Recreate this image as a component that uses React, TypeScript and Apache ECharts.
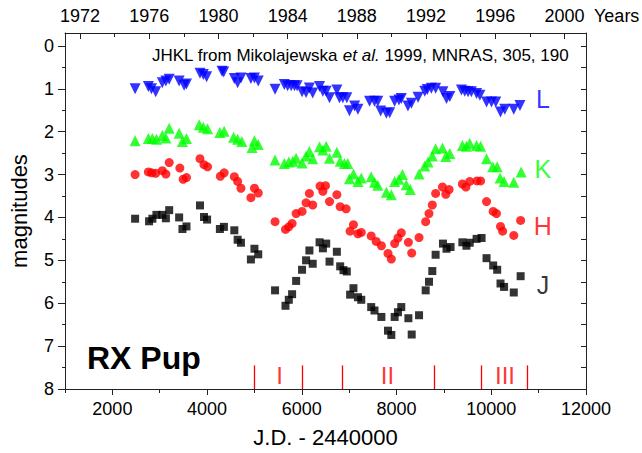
import React, { useEffect, useRef } from "react";
import * as echarts from "echarts";

// ---- data (J.D. - 2440000, magnitude) ----
const L_JD = [2480, 2760, 2825, 2915, 3055, 3130, 3200, 3410, 3515, 3565, 3850, 3920, 3990, 4315, 4350, 4575, 4645, 4715, 4925, 5000, 5080, 5435, 5630, 5700, 5775, 5845, 5900, 6005, 6090, 6160, 6230, 6375, 6445, 6515, 6585, 6740, 6795, 6865, 6950, 7005, 7115, 7185, 7430, 7535, 7605, 7665, 7785, 7855, 7960, 8050, 8100, 8240, 8315, 8455, 8595, 8650, 8735, 8825, 8980, 9055, 9125, 9370, 9440, 9510, 9580, 9690, 9760, 9900, 10005, 10095, 10195, 10285, 10475, 10605];
const L_MAG = [1.0, 0.95, 1.0, 1.07, 0.86, 0.82, 0.78, 0.82, 0.92, 0.89, 0.64, 0.67, 0.72, 0.59, 0.61, 0.76, 0.86, 0.75, 0.76, 0.75, 0.82, 1.01, 0.9, 0.93, 0.93, 0.93, 0.93, 1.07, 1.09, 0.98, 1.1, 0.95, 1.06, 1.06, 1.21, 1.03, 1.21, 1.21, 1.21, 1.51, 1.4, 1.48, 1.29, 1.29, 1.29, 1.52, 1.57, 1.56, 1.29, 1.26, 1.23, 1.4, 1.34, 1.2, 1.06, 1.02, 0.99, 0.99, 1.07, 1.23, 1.18, 1.03, 1.06, 1.07, 1.07, 1.11, 1.15, 1.31, 1.31, 1.31, 1.54, 1.48, 1.48, 1.39];

const K_JD = [2480, 2760, 2845, 2930, 3055, 3130, 3200, 3410, 3480, 3565, 3835, 3920, 4010, 4270, 4360, 4560, 4645, 4735, 4950, 5000, 5080, 5435, 5630, 5725, 5810, 5880, 6005, 6090, 6160, 6230, 6375, 6445, 6515, 6585, 6740, 6810, 6900, 6970, 7005, 7090, 7185, 7255, 7465, 7535, 7605, 7785, 7890, 7960, 8050, 8125, 8205, 8290, 8475, 8595, 8665, 8755, 8825, 8970, 9040, 9125, 9390, 9475, 9545, 9690, 9775, 9900, 10030, 10125, 10185, 10270, 10475, 10630];
const K_MAG = [2.21, 2.16, 2.16, 2.18, 2.09, 2.15, 1.92, 2.04, 2.23, 2.16, 1.84, 1.9, 1.93, 2.02, 1.99, 2.13, 2.18, 2.23, 2.37, 2.21, 2.3, 2.66, 2.74, 2.71, 2.69, 2.62, 2.73, 2.57, 2.46, 2.63, 2.35, 2.43, 2.34, 2.62, 2.48, 2.69, 2.74, 2.74, 3.1, 2.99, 3.16, 3.08, 3.05, 3.18, 3.25, 3.41, 3.47, 3.16, 3.11, 3.0, 3.24, 3.35, 2.99, 2.8, 2.71, 2.57, 2.4, 2.38, 2.58, 2.51, 2.32, 2.34, 2.27, 2.32, 2.34, 2.63, 2.82, 2.82, 3.08, 3.16, 3.18, 2.94];

const H_JD = [2480, 2760, 2830, 2915, 3055, 3130, 3200, 3425, 3495, 3565, 3850, 3935, 4010, 4280, 4360, 4575, 4645, 4715, 4925, 5000, 5080, 5435, 5655, 5725, 5795, 5880, 6005, 6090, 6160, 6230, 6385, 6445, 6500, 6585, 6740, 6810, 6935, 7020, 7090, 7185, 7255, 7465, 7570, 7680, 7820, 7890, 7960, 8030, 8100, 8250, 8320, 8475, 8615, 8685, 8755, 8825, 8970, 9040, 9110, 9390, 9465, 9545, 9700, 9775, 9900, 10040, 10110, 10195, 10240, 10475, 10620];
const H_MAG = [3.0, 2.94, 2.96, 2.97, 2.91, 2.99, 2.72, 2.85, 3.11, 3.07, 2.63, 2.77, 2.82, 3.04, 2.96, 3.05, 3.16, 3.32, 3.54, 3.32, 3.43, 4.1, 4.28, 4.22, 4.14, 3.91, 3.86, 3.66, 3.44, 3.71, 3.27, 3.39, 3.26, 3.63, 3.47, 3.75, 3.8, 4.32, 4.17, 4.38, 4.35, 4.43, 4.56, 4.66, 4.84, 4.97, 4.61, 4.48, 4.36, 4.58, 4.83, 4.47, 4.1, 3.91, 3.71, 3.44, 3.29, 3.46, 3.35, 3.22, 3.29, 3.16, 3.15, 3.15, 3.63, 3.86, 3.91, 4.21, 4.32, 4.42, 4.07];

const J_JD = [2480, 2775, 2845, 2930, 3055, 3130, 3200, 3410, 3480, 3565, 3850, 3935, 4000, 4270, 4355, 4575, 4645, 4715, 4925, 5000, 5080, 5435, 5655, 5725, 5795, 5880, 6005, 6090, 6160, 6230, 6375, 6445, 6515, 6585, 6740, 6810, 6880, 6950, 7020, 7090, 7185, 7255, 7465, 7535, 7680, 7820, 7890, 7960, 8030, 8100, 8250, 8320, 8475, 8615, 8685, 8755, 8825, 8980, 9055, 9140, 9390, 9475, 9545, 9690, 9795, 9900, 10040, 10125, 10195, 10270, 10475, 10620];
const J_MAG = [4.03, 4.09, 4.03, 3.94, 3.94, 4.02, 3.83, 4.0, 4.27, 4.21, 3.72, 3.99, 4.05, 4.27, 4.22, 4.3, 4.52, 4.59, 4.98, 4.73, 4.86, 5.7, 6.06, 5.92, 5.79, 5.48, 5.22, 5.0, 4.77, 5.08, 4.58, 4.72, 4.61, 5.03, 4.8, 5.14, 5.23, 5.26, 5.8, 5.65, 5.86, 5.92, 6.09, 6.17, 6.32, 6.64, 6.74, 6.32, 6.21, 6.09, 6.35, 6.73, 6.28, 5.7, 5.5, 5.25, 4.87, 4.61, 4.73, 4.69, 4.58, 4.66, 4.59, 4.5, 4.48, 4.95, 5.12, 5.22, 5.54, 5.62, 5.75, 5.37];

const BAND_NAMES = ["L", "K", "H", "J"];
const BAND_COLORS = ["#0000ff", "#00ff00", "#ff0000", "#000000"];
const BAND_LABEL_JD = [11090, 11090, 11090, 11090];
const BAND_LABEL_MAG = [1.23, 2.88, 4.21, 5.57];

const PHASE_EDGES = [5000, 6000, 6850, 8800, 9790, 10750];
const PHASE_NAMES = ["I", "II", "III"];
const PHASE_CENTERS = [5530, 7810, 10290];
const PHASE_MAG = 7.69;
const PHASE_LINE_TOP = 7.45;

const X_MIN = 1000;
const X_MAX = 12000;
const X_MAJOR = [2000, 4000, 6000, 8000, 10000, 12000];
const X_MINOR = [1000, 3000, 5000, 7000, 9000, 11000];
const Y_MIN = -0.3;
const Y_MAX = 8;
const Y_MAJOR = [0, 1, 2, 3, 4, 5, 6, 7, 8];
const Y_MINOR = [0.5, 1.5, 2.5, 3.5, 4.5, 5.5, 6.5, 7.5];
const YEAR_MAJOR = [1972, 1976, 1980, 1984, 1988, 1992, 1996, 2000];
const YEAR_MINOR = [1974, 1978, 1982, 1986, 1990, 1994, 1998];
const JD0_YEAR = 1968.392; // year of J.D. 2440000

const FONT = "'Liberation Sans', Arial, Helvetica, sans-serif";
const AXIS_COLOR = "#222";

const yearOf = (jd: number) => JD0_YEAR + jd / 365.25;
const pairs = (xs: number[], ys: number[]) => xs.map((x, i) => [x, ys[i]]);
const plain = (v: number) => String(Math.round(v));

export default function App() {
  const ref = useRef<HTMLDivElement>(null);

  useEffect(() => {
    if (!ref.current) return;
    const chart = echarts.init(ref.current, undefined, { renderer: "svg" });

    const hiddenLine = { show: false };
    const lineStyle = { color: AXIS_COLOR, width: 1 };

    const option: any = {
      animation: false,
      backgroundColor: "#ffffff",
      textStyle: { fontFamily: FONT },
      grid: { left: 65, right: 56, top: 33, bottom: 64, containLabel: false },
      xAxis: [
        {
          type: "value",
          position: "bottom",
          min: X_MIN,
          max: X_MAX,
          axisLine: { show: true, onZero: false, lineStyle },
          axisTick: { show: true, customValues: X_MAJOR, length: 6, inside: false, lineStyle },
          axisLabel: { show: true, customValues: X_MAJOR, formatter: plain, fontSize: 18, color: "#000", margin: 11, fontFamily: FONT },
          splitLine: { show: false },
          name: "J.D. - 2440000",
          nameLocation: "middle",
          nameGap: 37,
          nameTextStyle: { fontSize: 22, color: "#000", fontFamily: FONT },
        },
        {
          type: "value",
          position: "bottom",
          offset: 0,
          min: X_MIN,
          max: X_MAX,
          axisLine: { show: false, onZero: false },
          axisTick: { show: true, customValues: X_MINOR, length: 4, inside: false, lineStyle },
          axisLabel: { show: false },
          splitLine: { show: false },
        },
        {
          type: "value",
          position: "top",
          offset: 0,
          min: yearOf(X_MIN),
          max: yearOf(X_MAX),
          axisLine: { show: true, onZero: false, lineStyle },
          axisTick: { show: true, customValues: YEAR_MAJOR, length: 6, inside: true, lineStyle },
          axisLabel: { show: true, customValues: YEAR_MAJOR, formatter: plain, fontSize: 18, color: "#000", margin: 8, fontFamily: FONT },
          splitLine: { show: false },
        },
        {
          type: "value",
          position: "top",
          offset: 0,
          min: yearOf(X_MIN),
          max: yearOf(X_MAX),
          axisLine: { show: false, onZero: false },
          axisTick: { show: true, customValues: YEAR_MINOR, length: 4, inside: true, lineStyle },
          axisLabel: { show: false },
          splitLine: { show: false },
        },
      ],
      yAxis: [
        {
          type: "value",
          position: "left",
          inverse: true,
          min: Y_MIN,
          max: Y_MAX,
          axisLine: { show: true, onZero: false, lineStyle },
          axisTick: { show: true, customValues: Y_MAJOR, length: 7, inside: false, lineStyle },
          axisLabel: { show: true, customValues: Y_MAJOR, formatter: plain, fontSize: 18, color: "#000", margin: 11, fontFamily: FONT },
          splitLine: { show: false },
          name: "magnitudes",
          nameLocation: "middle",
          nameGap: 35,
          nameTextStyle: { fontSize: 22, color: "#000", fontFamily: FONT },
        },
        {
          type: "value",
          position: "left",
          offset: 0,
          inverse: true,
          min: Y_MIN,
          max: Y_MAX,
          axisLine: hiddenLine,
          axisTick: { show: true, customValues: Y_MINOR, length: 3, inside: false, lineStyle },
          axisLabel: { show: false },
          splitLine: { show: false },
        },
        {
          type: "value",
          position: "right",
          offset: 0,
          inverse: true,
          min: Y_MIN,
          max: Y_MAX,
          axisLine: { show: true, onZero: false, lineStyle },
          axisTick: { show: true, customValues: [...Y_MAJOR, ...Y_MINOR], length: 5, inside: true, lineStyle },
          axisLabel: { show: false },
          splitLine: { show: false },
        },
      ],
      series: [
        {
          name: "L",
          type: "scatter",
          data: pairs(L_JD, L_MAG),
          symbol: "triangle",
          symbolRotate: 180,
          symbolSize: 11,
          itemStyle: { color: BAND_COLORS[0] },
        },
        {
          name: "K",
          type: "scatter",
          data: pairs(K_JD, K_MAG),
          symbol: "triangle",
          symbolSize: 11,
          itemStyle: { color: BAND_COLORS[1] },
        },
        {
          name: "H",
          type: "scatter",
          data: pairs(H_JD, H_MAG),
          symbol: "circle",
          symbolSize: 9,
          itemStyle: { color: BAND_COLORS[2] },
        },
        {
          name: "J",
          type: "scatter",
          data: pairs(J_JD, J_MAG),
          symbol: "rect",
          symbolSize: 8,
          itemStyle: { color: BAND_COLORS[3] },
        },
        {
          name: "bandLabels",
          type: "scatter",
          symbolSize: 0,
          silent: true,
          data: BAND_NAMES.map((n, i) => ({
            name: n,
            value: [BAND_LABEL_JD[i], BAND_LABEL_MAG[i]],
            label: { color: BAND_COLORS[i] },
          })),
          label: {
            show: true,
            position: "inside",
            formatter: "{b}",
            fontSize: 25,
            fontFamily: FONT,
          },
        },
        {
          name: "phases",
          type: "scatter",
          symbolSize: 0,
          silent: true,
          data: PHASE_NAMES.map((n, i) => ({ name: n, value: [PHASE_CENTERS[i], PHASE_MAG] })),
          label: {
            show: true,
            position: "inside",
            formatter: "{b}",
            fontSize: 24,
            color: "#ff0000",
            fontFamily: FONT,
          },
          markLine: {
            silent: true,
            symbol: ["none", "none"],
            label: { show: false },
            lineStyle: { color: "#ff0000", width: 1.3, type: "solid" },
            data: PHASE_EDGES.map((x) => [
              { coord: [x, PHASE_LINE_TOP] },
              { coord: [x, Y_MAX] },
            ]),
          },
        },
      ],
      graphic: [
        {
          type: "text",
          x: 152,
          y: 55,
          style: {
            text: "JHKL from Mikolajewska {it|et al.} 1999, MNRAS, 305, 190",
            fontSize: 17,
            fontFamily: FONT,
            fill: "#000",
            verticalAlign: "middle",
            rich: { it: { fontStyle: "italic", fontSize: 17, fontFamily: FONT } },
          },
        },
        {
          type: "text",
          x: 87,
          y: 358,
          style: {
            text: "RX Pup",
            fontSize: 32,
            fontWeight: "bold",
            fontFamily: FONT,
            fill: "#000",
            verticalAlign: "middle",
          },
        },
        {
          type: "text",
          x: 594,
          y: 16,
          style: {
            text: "Years",
            fontSize: 18,
            fontFamily: FONT,
            fill: "#000",
            verticalAlign: "middle",
          },
        },
      ],
    };

    chart.setOption(option);
    return () => chart.dispose();
  }, []);

  return (
    <div
      ref={ref}
      style={{ position: "fixed", left: 0, top: 0, width: 642, height: 453, background: "#fff" }}
    />
  );
}
